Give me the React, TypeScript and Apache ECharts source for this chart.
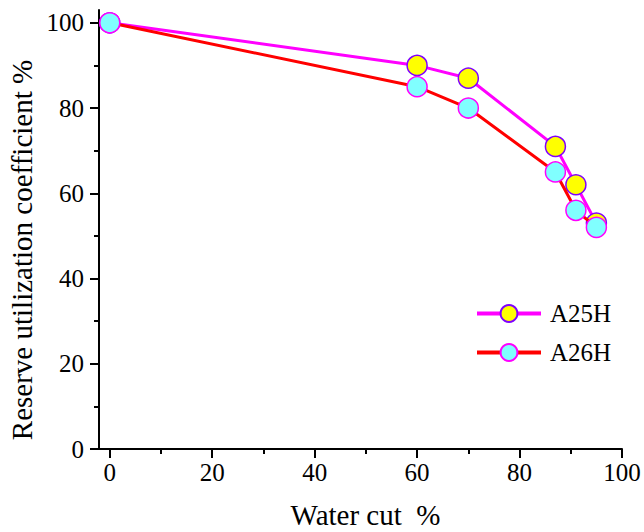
import React, { useEffect, useRef } from "react";
import * as echarts from "echarts";

const waterCut = [0, 60, 70, 87, 91, 95];
const a25h = [100, 90, 87, 71, 62, 53];
const a26h = [100, 85, 80, 65, 56, 52];
const seriesNames = ["A25H", "A26H"];
const majorTicks = [0, 20, 40, 60, 80, 100];
const minorTicks = [10, 30, 50, 70, 90];
const xTitle = "Water cut  %";
const yTitle = "Reserve utilization coefficient %";

const FONT = "'Liberation Serif', 'Times New Roman', serif";

export default function App() {
  const ref = useRef<HTMLDivElement>(null);
  useEffect(() => {
    document.body.style.margin = "0";
    if (!ref.current) return;
    const chart = echarts.init(ref.current, undefined, { renderer: "svg" });
    const labelStyle = { color: "#000", fontFamily: FONT, fontSize: 25 };
    const nameStyle = { color: "#000", fontFamily: FONT, fontSize: 29 };
    const majorAxis = (extra: any) => ({
      type: "value",
      axisLine: { show: true, onZero: false, lineStyle: { color: "#000", width: 2 } },
      axisTick: {
        show: true,
        inside: false,
        length: 9,
        customValues: majorTicks,
        lineStyle: { color: "#000", width: 2 },
      },
      splitLine: { show: false },
      nameTextStyle: nameStyle,
      ...extra,
    });
    const minorAxis = (extra: any) => ({
      type: "value",
      axisLine: { show: false, onZero: false },
      axisTick: {
        show: true,
        inside: false,
        length: 5,
        customValues: minorTicks,
        lineStyle: { color: "#000", width: 2 },
      },
      splitLine: { show: false },
      axisLabel: { show: false },
      ...extra,
    });
    chart.setOption({
      animation: false,
      backgroundColor: "#fff",
      grid: {
        left: 99,
        right: 22,
        top: 10,
        bottom: 83,
        containLabel: false,
        outerBoundsMode: "none",
      },
      xAxis: [
        majorAxis({
          min: -2.1,
          max: 100,
          position: "bottom",
          axisLabel: { ...labelStyle, customValues: majorTicks, margin: 11 },
          name: xTitle,
          nameLocation: "middle",
          nameGap: 51,
          nameTextStyle: { ...nameStyle, padding: [0, 0, 0, 10] },
        }),
        minorAxis({ min: -2.1, max: 100, position: "bottom" }),
      ],
      yAxis: [
        majorAxis({
          min: 0,
          max: 103,
          position: "left",
          axisLabel: { ...labelStyle, customValues: majorTicks, margin: 15 },
        }),
        minorAxis({ min: 0, max: 103, position: "left" }),
      ],
      graphic: [
        {
          type: "text",
          x: 22,
          y: 250,
          rotation: Math.PI / 2,
          style: {
            text: yTitle,
            fill: "#000",
            font: `29px ${FONT}`,
            align: "center",
            verticalAlign: "middle",
          },
        },
      ],
      legend: {
        show: true,
        left: 470,
        top: 296,
        orient: "vertical",
        itemWidth: 64,
        itemHeight: 21,
        itemGap: 14,
        textStyle: { ...labelStyle, padding: [0, 0, 0, 4] },
        data: [
          { name: seriesNames[0], lineStyle: { width: 4, color: "#FF00FF" } },
          { name: seriesNames[1], lineStyle: { width: 4, color: "#FF0000" } },
        ],
      },
      series: [
        {
          name: seriesNames[0],
          type: "line",
          xAxisIndex: 0,
          yAxisIndex: 0,
          data: waterCut.map((x, i) => [x, a25h[i]]),
          symbol: "circle",
          symbolSize: 20,
          lineStyle: { color: "#FF00FF", width: 3 },
          itemStyle: { color: "#FFFF00", borderColor: "#7F00FF", borderWidth: 1.5 },
          z: 2,
        },
        {
          name: seriesNames[1],
          type: "line",
          xAxisIndex: 0,
          yAxisIndex: 0,
          data: waterCut.map((x, i) => [x, a26h[i]]),
          symbol: "circle",
          symbolSize: 20,
          lineStyle: { color: "#FF0000", width: 3 },
          itemStyle: { color: "#80FFFF", borderColor: "#FF00FF", borderWidth: 1.5 },
          z: 3,
        },
      ],
    });
    return () => chart.dispose();
  }, []);
  return <div ref={ref} style={{ width: 644, height: 532 }} />;
}
